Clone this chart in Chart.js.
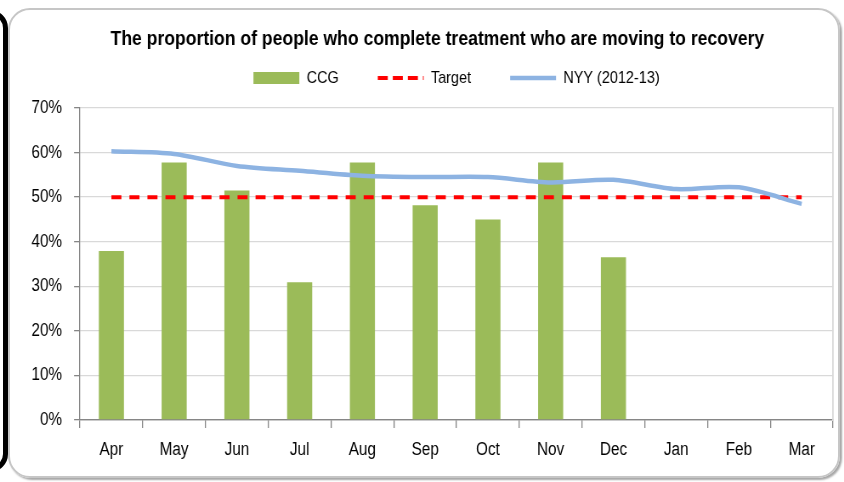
<!DOCTYPE html>
<html>
<head>
<meta charset="utf-8">
<script src="https://cdn.jsdelivr.net/npm/chart.js@4"></script>
<style>
  html, body { margin:0; padding:0; background:#fff; overflow:hidden; }
  #wrap { position:relative; width:844px; height:482px; overflow:hidden; }
  #frame { position:absolute; left:8px; top:8px; width:832px; height:470px; border:2px solid #c6c6c6; border-radius:22px; box-sizing:border-box; box-shadow: 2px 2px 2px rgba(0,0,0,0.35); }
  #blk { position:absolute; left:-34px; top:10px; width:42px; height:462px; border:5px solid #000; border-radius:18px; box-sizing:border-box; }
  #c { position:absolute; left:0; top:0; transform-origin:0 0; }
</style>
</head>
<body>
<div id="wrap">
  <div id="blk"></div>
  <div id="frame"></div>
  <canvas id="c"></canvas>
</div>
<script>
const chartTitle = 'The proportion of people who complete treatment who are moving to recovery';
const months = ['Apr','May','Jun','Jul','Aug','Sep','Oct','Nov','Dec','Jan','Feb','Mar'];
const ccgValues = [37.9, 57.8, 51.5, 30.9, 57.8, 48.2, 45.0, 57.8, 36.5, null, null, null];
const targetValues = [50, 50, 50, 50, 50, 50, 50, 50, 50, 50, 50, 50];
const nyyValues = [60.3, 59.7, 57.0, 55.9, 54.8, 54.5, 54.5, 53.3, 53.9, 51.8, 52.2, 48.5];
const yTicks = [0, 10, 20, 30, 40, 50, 60, 70];

// The reference text is horizontally condensed; draw wider and squeeze.
const SX = 0.85;
const W = Math.round(844 / SX), H = 482;
const cv = document.getElementById('c');
cv.width = W; cv.height = H;
cv.style.transform = 'scaleX(' + SX + ')';

const FONT = "'Liberation Sans', Arial, sans-serif";
const PADL = 36;
const LEG_PAD = 46;

new Chart(cv, {
  data: {
    labels: months,
    datasets: [
      { type: 'bar', label: 'CCG', data: ccgValues, backgroundColor: '#9BBB59', borderWidth: 0,
        barPercentage: 0.4, categoryPercentage: 1.0, pointStyle: 'rect', order: 3 },
      { type: 'line', label: 'Target', data: targetValues, borderColor: '#FF0000', backgroundColor: '#FF0000',
        borderWidth: 4, borderDash: [11.8, 9.4], pointRadius: 0, pointStyle: 'line', tension: 0, order: 2 },
      { type: 'line', label: 'NYY (2012-13)', data: nyyValues, borderColor: '#8DB3E2', backgroundColor: '#8DB3E2',
        borderWidth: 4.5, pointRadius: 0, pointStyle: 'line', tension: 0.3, order: 1 }
    ]
  },
  options: {
    responsive: false,
    animation: false,
    devicePixelRatio: 1,
    layout: { padding: { left: PADL, right: 0, top: 10, bottom: 0 } },
    plugins: {
      title: { display: true, text: chartTitle, color: '#000',
        font: { family: FONT, size: 20.7, weight: 'bold' }, padding: { top: 17, bottom: 17.66 - LEG_PAD } },
      legend: { display: true, position: 'top', fullSize: false,
        labels: { usePointStyle: true, pointStyleWidth: 54, boxHeight: 12, padding: LEG_PAD, color: '#000',
          font: { family: FONT, size: 17 },
          sort: (a, b) => a.datasetIndex - b.datasetIndex,
          generateLabels(chart) {
            const items = Chart.defaults.plugins.legend.labels.generateLabels(chart);
            items.forEach(it => {
              const ds = chart.data.datasets[it.datasetIndex];
              if (ds.type === 'line') {
                it.lineWidth = ds.borderWidth;
                it.strokeStyle = ds.borderColor;
                it.lineDash = ds.borderDash ? [11.8, 5.9] : [];
              }
            });
            return items;
          } } },
      tooltip: { enabled: false }
    },
    scales: {
      x: {
        offset: true,
        grid: { display: true, offset: true, drawOnChartArea: false, drawTicks: true, tickLength: 8, color: '#868686', lineWidth: 1.3 },
        border: { display: true, color: '#868686', width: 1.2 },
        ticks: { color: '#000', font: { family: FONT, size: 18 }, padding: 11, maxRotation: 0, autoSkip: false },
        afterFit(s) { s.height = 62; }
      },
      xTop: {
        type: 'category', position: 'top', labels: months, display: true,
        grid: { display: false }, border: { display: false }, ticks: { display: false },
        afterFit(s) { s.height = 11.5; }
      },
      y: {
        min: 0, max: 70,
        afterBuildTicks(s) { s.ticks = yTicks.map(v => ({ value: v })); },
        grid: { color: (ctx) => (ctx.tick && ctx.tick.value === 0) ? '#868686' : '#d9d9d9', lineWidth: 1.3,
          tickLength: 7, tickColor: '#868686' },
        border: { display: true, color: '#868686', width: 1.3 },
        ticks: { color: '#000', font: { family: FONT, size: 18 }, padding: 14,
          callback: (v) => v + '%' },
        afterFit(s) { s.width = 80 / SX - PADL; }
      },
      y2: {
        position: 'right', min: 0, max: 70, display: true,
        grid: { display: true, drawOnChartArea: false, drawTicks: false, tickLength: 0 },
        border: { display: true, color: '#d9d9d9', width: 1.8 },
        ticks: { display: false },
        afterFit(s) { s.width = 11 / SX; }
      }
    }
  }
});
</script>
</body>
</html>
